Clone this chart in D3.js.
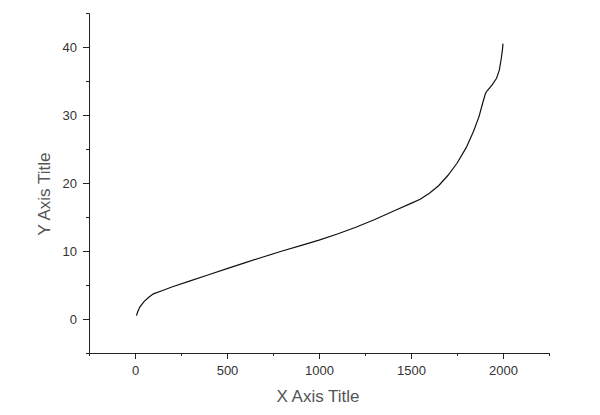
<!DOCTYPE html>
<html>
<head>
<meta charset="utf-8">
<script src="https://cdn.jsdelivr.net/npm/d3@7"></script>
<style>
  body { margin: 0; background: #fff; }
  svg { display: block; font-family: "Liberation Sans", Arial, sans-serif; }
  .axis path, .axis line { stroke: #222; }
  .axis text { fill: #333; font-size: 13px; font-family: "Liberation Sans", Arial, sans-serif; }
</style>
</head>
<body>
<div id="chart"></div>
<script>
// curve
var xValues = [8, 15, 27, 50, 75, 100, 150, 200, 300, 400, 500, 600, 700, 800, 900, 1000,
  1100, 1200, 1300, 1400, 1500, 1550, 1600, 1650, 1700, 1750, 1800, 1840, 1870, 1890,
  1905, 1915, 1940, 1965, 1980, 1990, 1997, 2000];
var yValues = [0.5, 1.1, 1.8, 2.6, 3.2, 3.7, 4.2, 4.7, 5.6, 6.5, 7.4, 8.3, 9.15, 10.0, 10.8, 11.6,
  12.5, 13.5, 14.6, 15.8, 17.0, 17.6, 18.5, 19.6, 21.1, 22.9, 25.2, 27.6, 29.8, 31.8,
  33.2, 33.6, 34.4, 35.4, 36.6, 38.2, 39.6, 40.5];

var xTicks = [0, 500, 1000, 1500, 2000];
var xMinor = [-250, 250, 750, 1250, 1750, 2250];
var yTicks = [0, 10, 20, 30, 40];
var yMinor = [-5, 5, 15, 25, 35, 45];

var data = xValues.map(function(d, i) { return {x: d, y: yValues[i]}; });

var margin = {top: 13, right: 51, bottom: 62, left: 89},
    width = 600 - margin.left - margin.right,
    height = 415 - margin.top - margin.bottom;

var svg = d3.select("#chart").append("svg")
    .attr("width", 600)
    .attr("height", 415)
  .append("g")
    .attr("transform", "translate(" + margin.left + "," + margin.top + ")");

var x = d3.scaleLinear().domain([-250, 2250]).range([0, width]);
var y = d3.scaleLinear().domain([-5, 45]).range([height, 0]);

// minor ticks
svg.append("g")
    .attr("class", "axis")
    .attr("transform", "translate(0," + height + ")")
    .call(d3.axisBottom(x).tickValues(xMinor).tickSize(3).tickSizeOuter(0).tickFormat(""));
svg.append("g")
    .attr("class", "axis")
    .call(d3.axisLeft(y).tickValues(yMinor).tickSize(3).tickSizeOuter(0).tickFormat(""));

// major ticks
svg.append("g")
    .attr("class", "axis")
    .attr("transform", "translate(0," + height + ")")
    .call(d3.axisBottom(x).tickValues(xTicks).tickSize(6).tickPadding(7).tickSizeOuter(0).tickFormat(d3.format("d")));
svg.append("g")
    .attr("class", "axis")
    .call(d3.axisLeft(y).tickValues(yTicks).tickSize(6).tickPadding(6).tickSizeOuter(0).tickFormat(d3.format("d")));

var valueline = d3.line()
    .x(function(d) { return x(d.x); })
    .y(function(d) { return y(d.y); });

svg.append("path")
    .datum(data)
    .attr("fill", "none")
    .attr("stroke", "#111")
    .attr("stroke-width", 1.2)
    .attr("d", valueline);

// axis titles
svg.append("text")
    .attr("x", 318 - margin.left)
    .attr("y", 402 - margin.top)
    .attr("text-anchor", "middle")
    .attr("fill", "#555")
    .style("font-size", "17px")
    .text("X Axis Title");

svg.append("text")
    .attr("transform", "translate(" + (50 - margin.left) + "," + (194 - margin.top) + ") rotate(-90)")
    .attr("text-anchor", "middle")
    .attr("fill", "#555")
    .style("font-size", "17px")
    .text("Y Axis Title");
</script>
</body>
</html>
